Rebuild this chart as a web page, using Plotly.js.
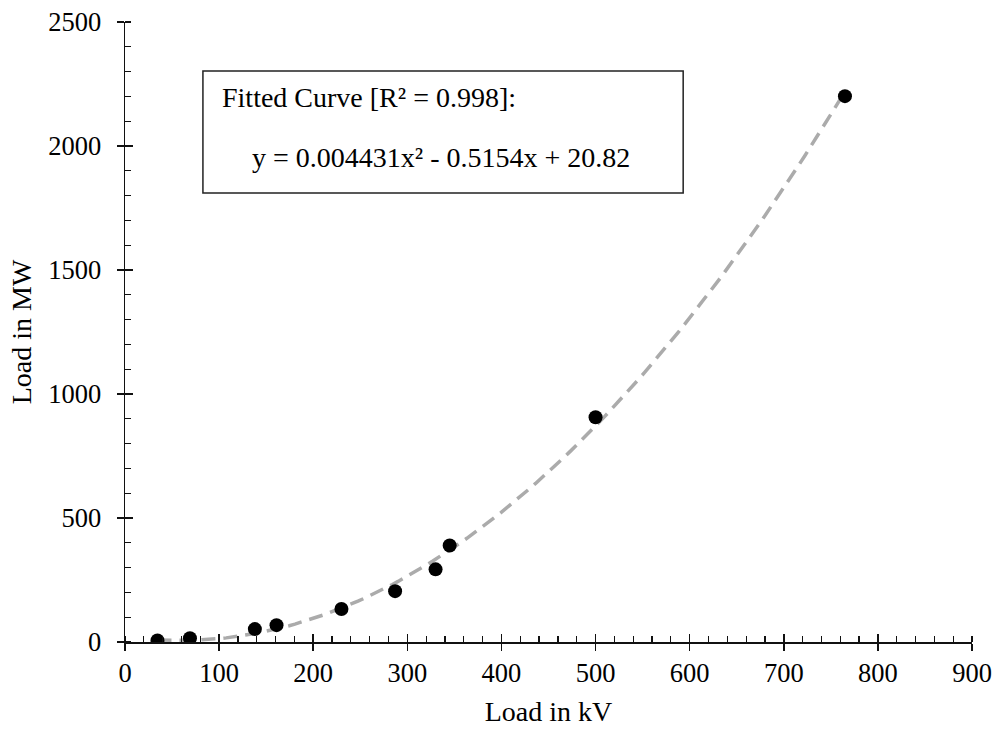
<!DOCTYPE html>
<html>
<head>
<meta charset="utf-8">
<script src="https://cdn.plot.ly/plotly-3.0.1.min.js"></script>
<style>html,body{margin:0;padding:0;background:#fff;}#chart{width:997px;height:729px;}</style>
</head>
<body>
<div id="chart"></div>
<script>
const loadKV = [34.5, 69, 138, 161, 230, 287, 330, 345, 500, 765];
const loadMW = [6, 15, 52, 68, 133, 205, 293, 389, 906, 2201];
// Fitted quadratic coefficients shown in the chart: a*x^2 + b*x + c
const fitCoeffs = [0.004431, -0.5154, 20.82];
const fitRange = [34.5, 765];
const xTickVals = [0, 100, 200, 300, 400, 500, 600, 700, 800, 900];
const yTickVals = [0, 500, 1000, 1500, 2000, 2500];

// trendline evaluated from the displayed equation
const fitX = [], fitY = [];
const steps = 120;
for (let i = 0; i <= steps; i++) {
  const x = fitRange[0] + (fitRange[1] - fitRange[0]) * i / steps;
  fitX.push(x);
  fitY.push(fitCoeffs[0] * x * x + fitCoeffs[1] * x + fitCoeffs[2]);
}

const fam = '"Liberation Serif", "Times New Roman", serif';
const f = (s) => ({family: fam, size: s, color: '#000'});

const traces = [
  {x: fitX, y: fitY, mode: 'lines', type: 'scatter',
   line: {color: '#ababab', width: 3.5, dash: '14px,8px'}, hoverinfo: 'skip', showlegend: false},
  {x: loadKV, y: loadMW, mode: 'markers', type: 'scatter',
   marker: {color: '#000', size: 14}, showlegend: false},
  // invisible helper on overlay axes so they render
  {x: [0], y: [0], xaxis: 'x2', yaxis: 'y2', mode: 'markers', marker: {opacity: 0}, hoverinfo: 'skip', showlegend: false}
];

const layout = {
  width: 997, height: 729,
  margin: {l: 125, r: 25, t: 22, b: 87},
  paper_bgcolor: '#fff', plot_bgcolor: '#fff',
  font: f(26),
  showlegend: false,
  xaxis: {
    range: [0, 900], tickvals: xTickVals, ticktext: xTickVals.map(String),
    showgrid: false, zeroline: false, showline: true, linecolor: '#111', linewidth: 1.5,
    ticks: 'outside', ticklen: 7, tickwidth: 1.5, tickcolor: '#111',
    minor: {dtick: 20, ticks: 'inside', ticklen: 6, tickwidth: 1.2, tickcolor: '#111', showgrid: false},
    tickfont: f(26.5),
    title: {text: 'Load in kV', font: f(28), standoff: 14},
    fixedrange: true
  },
  yaxis: {
    range: [0, 2500], tickvals: yTickVals, ticktext: yTickVals.map(String),
    showgrid: false, zeroline: false, showline: true, linecolor: '#111', linewidth: 1.5,
    ticks: 'outside', ticklen: 7, tickwidth: 1.5, tickcolor: '#111',
    minor: {dtick: 100, ticks: 'inside', ticklen: 6, tickwidth: 1.2, tickcolor: '#111', showgrid: false},
    tickfont: f(26.5),
    ticklabelstandoff: 10,
    title: {text: 'Load in MW', font: f(28), standoff: 8},
    fixedrange: true
  },
  xaxis2: {overlaying: 'x', matches: 'x', range: [0, 900], tickvals: xTickVals, showticklabels: false,
    ticks: 'inside', ticklen: 8, tickwidth: 1.5, tickcolor: '#111', showgrid: false, zeroline: false, showline: false, side: 'bottom'},
  yaxis2: {overlaying: 'y', matches: 'y', range: [0, 2500], tickvals: yTickVals, showticklabels: false,
    ticks: 'inside', ticklen: 8, tickwidth: 1.5, tickcolor: '#111', showgrid: false, zeroline: false, showline: false, side: 'left'},
  shapes: [
    {type: 'rect', xref: 'paper', yref: 'paper', x0: 0.092, x1: 0.659, y0: 0.724, y1: 0.921,
     line: {color: '#222', width: 1.5}, fillcolor: '#fff', layer: 'above'}
  ],
  annotations: [
    {xref: 'paper', yref: 'paper', x: 0.112, y: 0.879, xanchor: 'left', yanchor: 'middle', showarrow: false,
     text: 'Fitted Curve [R² = 0.998]:', font: f(28)},
    {xref: 'paper', yref: 'paper', x: 0.373, y: 0.781, xanchor: 'center', yanchor: 'middle', showarrow: false,
     text: 'y = ' + fitCoeffs[0] + 'x² - ' + Math.abs(fitCoeffs[1]) + 'x + ' + fitCoeffs[2],
     font: f(28)}
  ]
};

Plotly.newPlot('chart', traces, layout, {displayModeBar: false, staticPlot: true});
</script>
</body>
</html>
